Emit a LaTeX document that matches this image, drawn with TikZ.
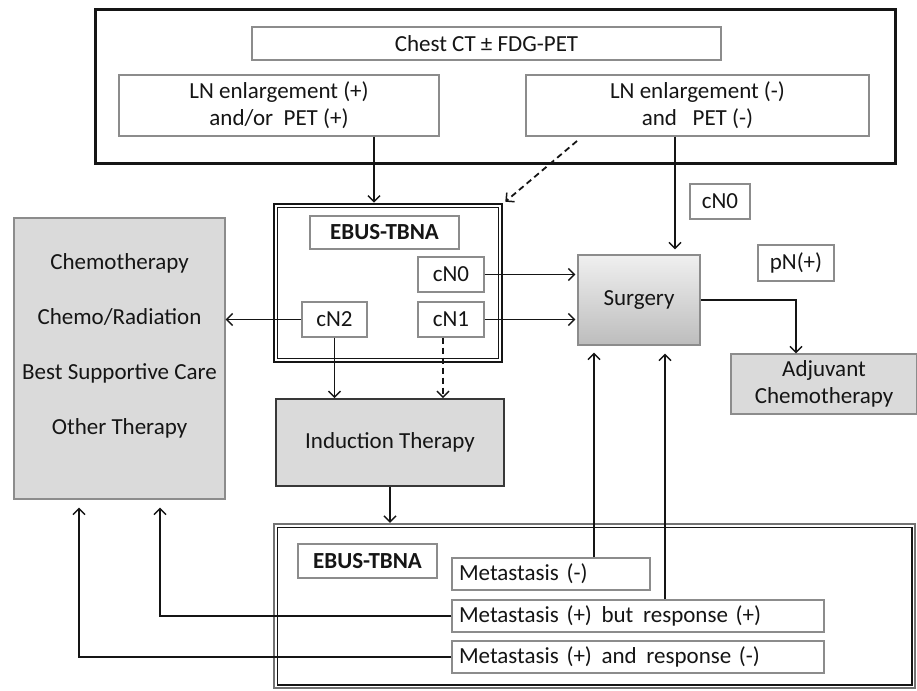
\documentclass[tikz,border=0pt]{standalone}
\usepackage{fontspec}
\setmainfont{Carlito}
\usetikzlibrary{arrows.meta,calc}
\definecolor{bordergray}{HTML}{8C8C8C}
\definecolor{fillgray}{HTML}{DADADA}
\definecolor{ink}{HTML}{151515}
\begin{document}
\begin{tikzpicture}[x=1pt,y=-1pt,
  every node/.style={font=\fontsize{23}{27}\selectfont, text=ink, inner sep=0pt, align=center},
  wbox/.style={draw=bordergray, line width=1.2pt, fill=white, rectangle},
  gbox/.style={draw=bordergray, line width=1.2pt, fill=fillgray, rectangle},
  conn/.style={draw=ink, line width=1.8pt},
  arr/.style={conn, -{Straight Barb[length=6pt,width=12pt,line width=1.5pt]}},
  darr/.style={arr, dash pattern=on 6pt off 4pt},
]
\useasboundingbox (0,0) rectangle (917,690);

% top frame
\node[draw=ink, line width=3pt, minimum width=800pt, minimum height=153pt] (topbox) at (495,86.5) {};
\node[wbox, minimum width=469pt, minimum height=33pt] (chest) at (486.5,43.5) {Chest CT ± FDG-PET};
\node[wbox, minimum width=320pt, minimum height=61pt] (lnp) at (279,105.5) {LN enlargement (+)\\and/or\ \ PET (+)};
\node[wbox, minimum width=343pt, minimum height=61pt] (lnm) at (697.5,105.5) {LN enlargement (-)\\and\ \ \ PET (-)};

% EBUS box (double border)
\node[draw=ink, line width=2.6pt, minimum width=228pt, minimum height=158pt] (ebus) at (388,283) {};
\draw[ink, line width=1.5pt] ($(ebus.north west)+(5,5)$) rectangle ($(ebus.south east)+(-5,-5)$);
\node[wbox, minimum width=149pt, minimum height=33pt, font=\fontsize{23}{27}\selectfont\bfseries] (ebuslbl) at (384.5,232.5) {EBUS-TBNA};
\node[wbox, minimum width=66pt, minimum height=35pt] (cn0) at (451,274.5) {cN0};
\node[wbox, minimum width=66pt, minimum height=35pt] (cn1) at (451,319.5) {cN1};
\node[wbox, minimum width=65pt, minimum height=35pt] (cn2) at (334.5,319.5) {cN2};

% left therapy box
\node[gbox, minimum width=211pt, minimum height=281pt] (lbox) at (119.5,358.5) {};
\node[font=\fontsize{23}{55}\selectfont] (ltext) at (119.5,346) {Chemotherapy\\Chemo/Radiation\\Best Supportive Care\\Other Therapy};

% induction
\node[fill=fillgray, draw=ink!85, line width=1.6pt, minimum width=228pt, minimum height=87pt] (induct) at (390,442.5) {Induction Therapy};

% surgery
\node[draw=bordergray, line width=1.2pt, top color=white!94!black, bottom color=white!74!black, minimum width=122pt, minimum height=90pt] (surg) at (639,300) {Surgery};
\node[wbox, minimum width=60pt, minimum height=35pt] (cn0b) at (720,201.5) {cN0};
\node[wbox, minimum width=76pt, minimum height=36pt] (pn) at (796,263) {pN(+)};
\node[gbox, minimum width=186pt, minimum height=60pt] (adj) at (824,384) {Adjuvant\\Chemotherapy};

% bottom frame (double border)
\node[draw=ink!60, line width=2.2pt, minimum width=641pt, minimum height=164pt] (botbox) at (594.5,606) {};
\draw[ink, line width=1.8pt] ($(botbox.north west)+(4.5,4.5)$) rectangle ($(botbox.south east)+(-4.5,-4.5)$);
\node[wbox, minimum width=139pt, minimum height=34pt, font=\fontsize{23}{27}\selectfont\bfseries] (ebus2) at (367.5,561) {EBUS-TBNA};
\node[wbox, minimum width=198pt, minimum height=32pt, text width=184pt, align=left] (met0) at (551,574) {Metastasis (-)};
\node[wbox, minimum width=372pt, minimum height=32pt, text width=358pt, align=left] (metbut) at (638,616) {Metastasis (+)\hspace{2pt} but\hspace{2pt} response (+)};
\node[wbox, minimum width=372pt, minimum height=32pt, text width=358pt, align=left] (metand) at (638,657) {Metastasis (+)\hspace{2pt} and\hspace{2pt} response (-)};

% helper coordinates (x positions of vertical connectors)
\coordinate (xa) at (374,0);
\coordinate (xd) at (577,141);
\coordinate (xm) at (675,0);
\coordinate (xc) at (443,0);
\coordinate (xs1) at (594,0);
\coordinate (xs2) at (665,0);
\coordinate (xl1) at (160,0);
\coordinate (xl2) at (79,0);

% connectors
\draw[arr] (lnp.south -| xa) -- (ebus.north -| xa);
\draw[darr] (xd) -- ($(ebus.north east)+(2,-1)$);
\draw[arr, shorten >=5pt] (lnm.south -| xm) -- (surg.north -| xm);
\draw[arr, shorten >=2pt] (cn0.east) -- (surg.west |- cn0.east);
\draw[arr, shorten >=2pt] (cn1.east) -- (surg.west |- cn1.east);
\draw[arr] (surg.east) -| (pn.south |- adj.north);
\draw[arr] (cn2.west) -- (lbox.east |- cn2.west);
\draw[arr] (cn2.south) -- (cn2.south |- induct.north);
\draw[darr] (cn1.south -| xc) -- (induct.north -| xc);
\draw[arr] (induct.south) -- (induct.south |- botbox.north);
\draw[arr, shorten >=7pt] (met0.north -| xs1) -- (surg.south -| xs1);
\draw[arr, shorten >=8pt] (metbut.north -| xs2) -- (surg.south -| xs2);
\draw[arr, shorten >=8pt] (metbut.west) -| (lbox.south -| xl1);
\draw[arr, shorten >=8pt] (metand.west) -| (lbox.south -| xl2);
\end{tikzpicture}
\end{document}
